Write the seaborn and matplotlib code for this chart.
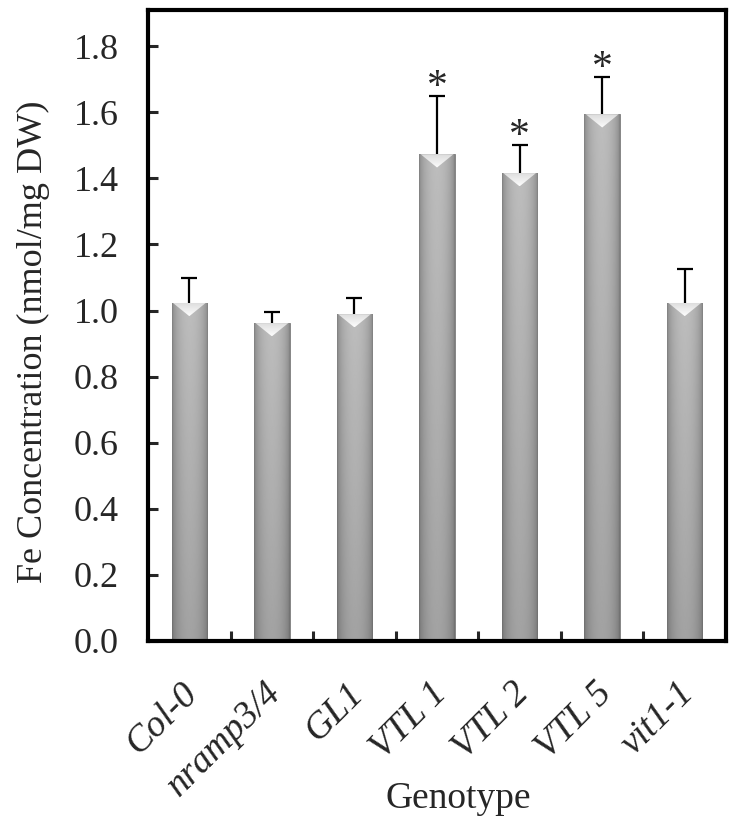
import numpy as np
import pandas as pd
import seaborn as sns
import matplotlib.pyplot as plt
import matplotlib.transforms as mtransforms
from matplotlib.patches import Polygon
from matplotlib.ticker import MultipleLocator, FixedLocator

# values
genotypes = ['Col-0', 'nramp3/4', 'GL1', 'VTL 1', 'VTL 2', 'VTL 5', 'vit1-1']
fe_mean = [1.023, 0.962, 0.989, 1.473, 1.416, 1.594, 1.023]
fe_sd = [0.077, 0.033, 0.049, 0.176, 0.084, 0.113, 0.102]
significant = [False, False, False, True, True, True, False]

df = pd.DataFrame({'genotype': genotypes, 'fe': fe_mean})

sns.set_style('white')
plt.rcParams['font.family'] = ['Liberation Serif', 'DejaVu Serif']

fig = plt.figure(figsize=(7.35, 8.26), dpi=100)
ax = fig.add_axes([0.2014, 0.224, 0.7864, 0.764])

sns.barplot(data=df, x='genotype', y='fe', color='#a8a8a8', width=0.43,
            saturation=1, errorbar=None, ax=ax, zorder=2)

# cylinder-like shading on each bar, plus the light chevron on top
t = np.linspace(0, 1, 60)
horiz = 0.50 + 0.24 * np.sin(np.pi * t) ** 0.5
s = np.linspace(0, 1, 100)[:, None]
vert = 0.86 + 0.14 * s
shade = horiz[None, :] * vert
for bar in list(ax.patches):
    x0, y0 = bar.get_x(), bar.get_y()
    w, h = bar.get_width(), bar.get_height()
    im = ax.imshow(shade, extent=[x0, x0 + w, y0, y0 + h], origin='lower',
                   cmap='gray', vmin=0, vmax=1, aspect='auto', zorder=2.5,
                   interpolation='bilinear')
    im.set_clip_path(bar)
    bar.set_edgecolor('#7a7a7a')
    bar.set_linewidth(0.6)
    d = 0.04
    chev = Polygon([[x0 + 0.04 * w, y0 + h], [x0 + 0.96 * w, y0 + h], [x0 + w / 2, y0 + h - d]],
                   closed=True, facecolor='none', edgecolor='none', zorder=2.6)
    ax.add_patch(chev)
    g = np.linspace(0.86, 0.99, 40)[:, None] * np.ones((1, 10))
    im2 = ax.imshow(g, extent=[x0, x0 + w, y0 + h - d, y0 + h], origin='upper',
                    cmap='gray', vmin=0, vmax=1, aspect='auto', zorder=2.7,
                    interpolation='bilinear')
    im2.set_clip_path(chev)

# upward-only error bars
xpos = np.arange(len(genotypes))
_, caps, _ = ax.errorbar(xpos, fe_mean, yerr=[np.zeros(len(fe_sd)), fe_sd], fmt='none',
                         ecolor='black', elinewidth=1.6, capsize=6, capthick=1.6, zorder=3)
caps[0].set_visible(False)

for i, (m, e, sig) in enumerate(zip(fe_mean, fe_sd, significant)):
    if sig:
        ax.annotate('*', (i, m + e), xytext=(0, -8), textcoords='offset points',
                    ha='center', va='bottom', fontsize=30, zorder=4)

ax.set_xlim(-0.5, len(genotypes) - 0.5)
ax.set_ylim(0, 1.91)
ax.yaxis.set_major_locator(MultipleLocator(0.2))
ax.yaxis.set_major_formatter(plt.FuncFormatter(lambda v, p: f'{v:.1f}'))
ax.xaxis.set_minor_locator(FixedLocator(np.arange(0.5, len(genotypes) - 1, 1)))

ax.tick_params(axis='y', direction='in', length=7, width=2.2, labelsize=26, pad=21, left=True)
ax.tick_params(axis='x', which='major', length=0, labelsize=27, pad=25)
ax.tick_params(axis='x', which='minor', direction='in', length=7, width=2.2, bottom=True)
shift = mtransforms.ScaledTranslation(-6 / 72, 0, fig.dpi_scale_trans)
for lab in ax.get_xticklabels():
    lab.set_rotation(45)
    lab.set_ha('right')
    lab.set_va('top')
    lab.set_rotation_mode('anchor')
    lab.set_style('italic')
    lab.set_transform(lab.get_transform() + shift)

for sp in ax.spines.values():
    sp.set_visible(True)
    sp.set_color('black')
    sp.set_linewidth(3)

ax.set_xlabel('Genotype', fontsize=27)
ax.xaxis.set_label_coords(0.536, -0.222)
ax.set_ylabel('Fe Concentration (nmol/mg DW)', fontsize=26)
ax.yaxis.set_label_coords(-0.17, 0.474)
ax.grid(False)

fig.savefig('out.png', dpi=100)
